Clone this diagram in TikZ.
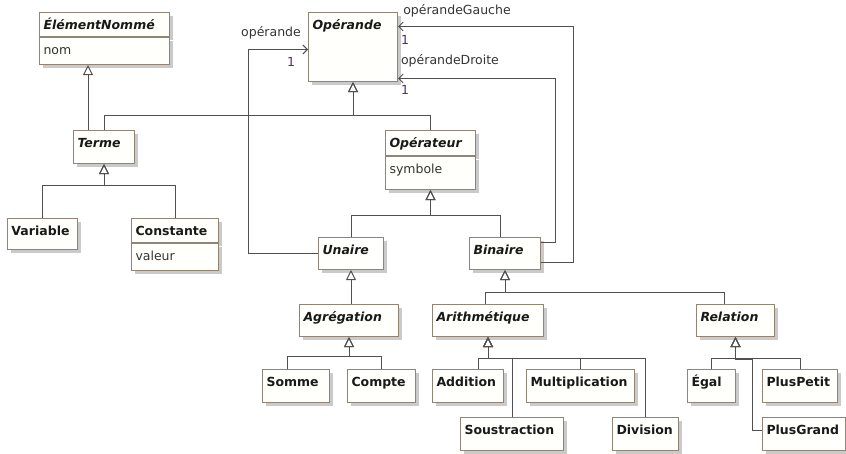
\documentclass[tikz,border=0pt]{standalone}
\usepackage{fontspec}
\setmainfont{DejaVu Sans}
\usetikzlibrary{arrows.meta,shadows}
\definecolor{boxline}{RGB}{145,132,118}
\definecolor{boxfill}{RGB}{255,255,251}
\definecolor{wire}{RGB}{80,80,80}
\definecolor{rolecol}{RGB}{51,51,51}
\definecolor{multcol}{RGB}{90,40,110}
\begin{document}
\begin{tikzpicture}[x=1pt,y=-1pt,line width=1pt,
  cls/.style={draw=boxline,fill=boxfill,anchor=north west,align=left,inner xsep=4pt,inner ysep=0pt,
    text height=17pt,text depth=15pt,font=\fontsize{12.5}{15}\selectfont\bfseries,text=black!90,
    drop shadow={shadow xshift=3pt,shadow yshift=-3pt,fill=black!35,opacity=.6}},
  abs/.style={cls,font=\fontsize{12.5}{15}\selectfont\bfseries\itshape},
  attr/.style={cls,font=\fontsize{12.5}{15}\selectfont,text=rolecol},
  gen/.style={draw=wire,-{Triangle[open,width=10pt,length=10pt]}},
  assoc/.style={draw=wire,-{Straight Barb[length=4.5pt,width=9pt]}},
  role/.style={font=\fontsize{12.5}{15}\selectfont,text=rolecol,inner sep=0pt},
  mult/.style={role,text=multcol}]
  \useasboundingbox (0,0) rectangle (846,453);
  \node[abs,text width=122pt,text depth=7pt] (en) at (39,12) {ÉlémentNommé};
  \node[attr,text width=122pt,text depth=10pt] (en-a) at (en.south west) {nom};
  \node[abs,text width=81pt,text depth=52pt] (opd) at (308,12) {Opérande};
  \node[abs,text width=53pt,text depth=16pt] (terme) at (73,130) {Terme};
  \node[abs,text width=82pt,text depth=8pt] (opr) at (385,130) {Opérateur};
  \node[attr,text width=82pt,text depth=16pt] (opr-a) at (opr.south west) {symbole};
  \node[cls,text width=62pt,text depth=14pt] (var) at (7,218) {Variable};
  \node[cls,text width=79pt,text depth=7pt] (cst) at (131,218) {Constante};
  \node[attr,text width=79pt,text depth=10pt] (cst-a) at (cst.south west) {valeur};
  \node[abs,text width=57pt] (una) at (318,237) {Unaire};
  \node[abs,text width=63pt] (bin) at (469,237) {Binaire};
  \node[abs,text width=91pt] (agr) at (299,304) {Agrégation};
  \node[abs,text width=103pt] (ari) at (432,304) {Arithmétique};
  \node[abs,text width=70pt] (rel) at (696,304) {Relation};
  \node[cls,text width=59pt,text depth=16pt] (som) at (262,369) {Somme};
  \node[cls,text width=60pt,text depth=16pt] (cpt) at (347,369) {Compte};
  \node[cls,text width=63pt,text depth=16pt] (add) at (432,369) {Addition};
  \node[cls,text width=100pt,text depth=16pt] (mul) at (526,369) {Multiplication};
  \node[cls,text width=40pt,text depth=16pt] (egal) at (687,369) {Égal};
  \node[cls,text width=67pt,text depth=16pt] (ppet) at (762,369) {PlusPetit};
  \node[cls,text width=95pt,text depth=16pt] (sous) at (460,417) {Soustraction};
  \node[cls,text width=58pt,text depth=16pt] (div) at (612,417) {Division};
  \node[cls,text width=75pt,text depth=16pt] (pgr) at (762,417) {PlusGrand};
  \coordinate (t-up) at ([xshift=15pt]terme.north west);
  \draw[gen] (t-up) -- (t-up |- en-a.south);
  \draw[gen] (terme.north) -- ++(0,-15) -| (opd.south);
  \draw[gen] (opr.north) -- ++(0,-15) -| (opd.south);
  \draw[gen] (var.north) -- ++(0,-33) -| (terme.south);
  \draw[gen] (cst.north) -- ++(0,-33) -| (terme.south);
  \draw[gen] (una.north) -- ++(0,-22) -| (opr-a.south);
  \draw[gen] ([xshift=-5pt]bin.north) -- ++(0,-22) -| (opr-a.south);
  \draw[gen] (agr.north -| una.south) -- (una.south);
  \draw[gen] ([xshift=-3pt]ari.north) -- ++(0,-12) -| (bin.south);
  \draw[gen] ([xshift=-11pt]rel.north) -- ++(0,-12) -| (bin.south);
  \draw[gen] ([xshift=-9pt]som.north) -- ++(0,-13) -| (agr.south);
  \draw[gen] (cpt.north) -- ++(0,-13) -| (agr.south);
  \draw[gen] ([xshift=10pt]add.north) -- ++(0,-11) -| (ari.south);
  \draw[gen] (mul.north) -- ++(0,-11) -| (ari.south);
  \draw[gen] (sous.north) -- ++(0,-59) -| (ari.south);
  \draw[gen] (div.north) -- ++(0,-59) -| (ari.south);
  \draw[gen] (egal.north) -- ++(0,-11) -| (rel.south);
  \draw[gen] (ppet.north) -- ++(0,-11) -| (rel.south);
  \draw[gen] ([yshift=4pt]pgr.west) -- ++(-10,0) -- ++(0,-71) -| (rel.south);
  \draw[assoc] (una.west) -- ++(-70,0) |- ([yshift=-2.5pt]opd.west);
  \draw[assoc] ([yshift=-9pt]bin.east) -- ++(32,0) |- ([yshift=20.5pt]opd.east);
  \draw[assoc] ([yshift=11pt]bin.east) -- ++(14,0) |- ([yshift=-31.5pt]opd.east);
  \node[role] (r-una) at (271,33) {opérande};
  \node[mult] (m-una) at (291,62) {1};
  \node[role] (r-gau) at (457,11) {opérandeGauche};
  \node[mult] (m-gau) at (405,40) {1};
  \node[role] (r-dro) at (450,61) {opérandeDroite};
  \node[mult] (m-dro) at (405,90) {1};
\end{tikzpicture}
\end{document}
